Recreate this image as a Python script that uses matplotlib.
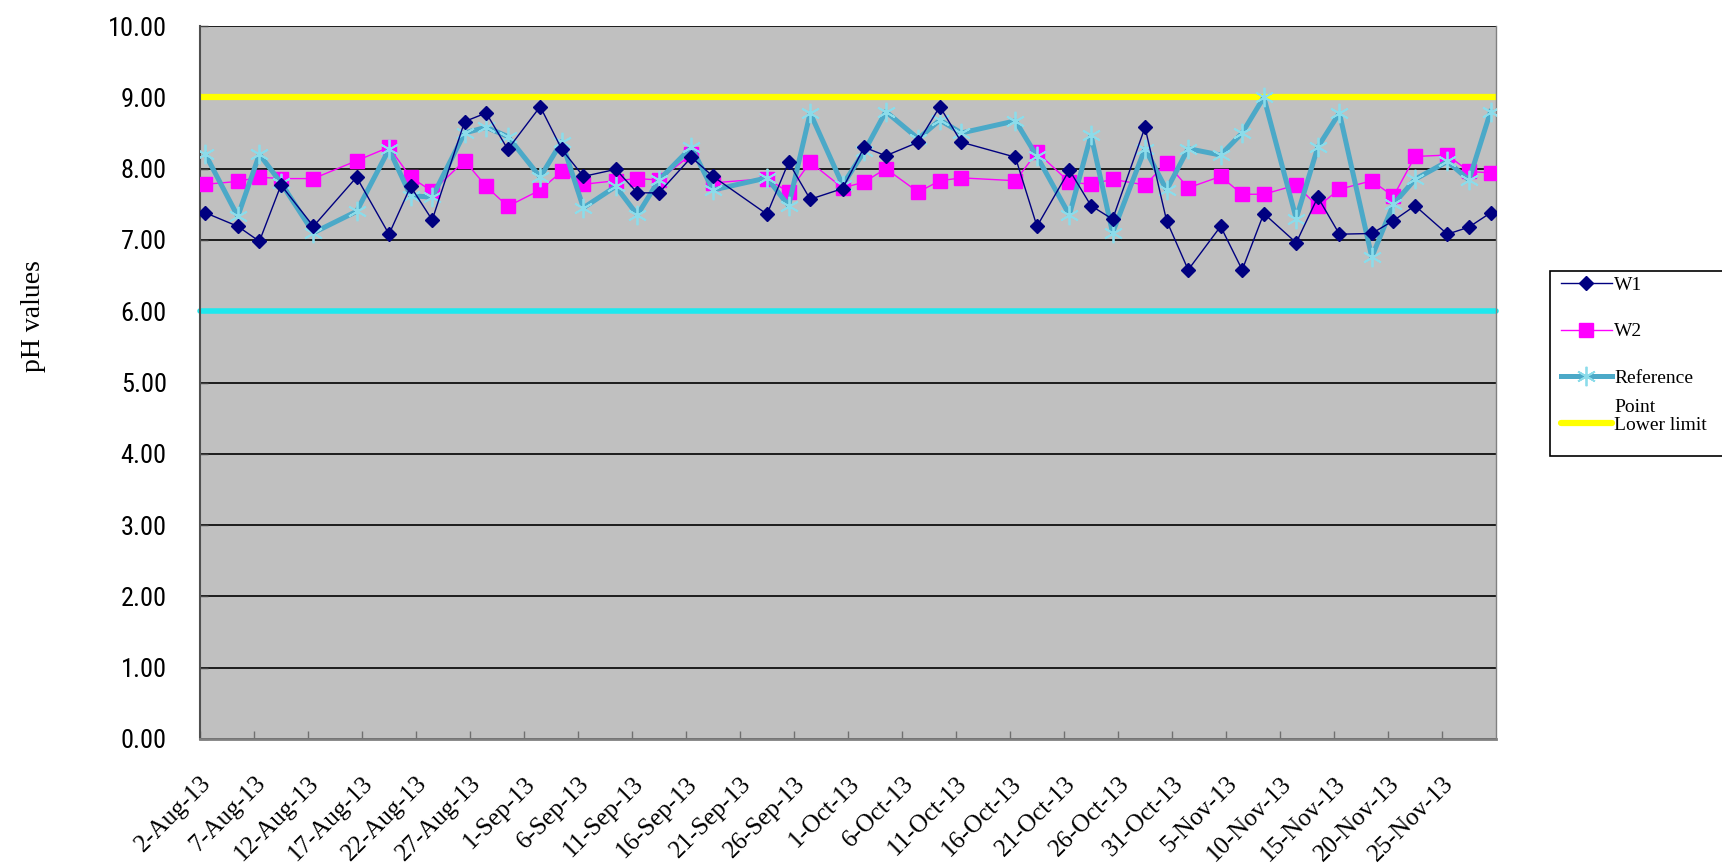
import matplotlib
matplotlib.use("Agg")
import matplotlib.pyplot as plt
import matplotlib.patches as mpatches
import matplotlib.transforms as mtransforms
import pandas as pd

# sampling dates (Mon / Wed / Fri)
dates = [
    "2013-08-02", "2013-08-05", "2013-08-07", "2013-08-09", "2013-08-12",
    "2013-08-16", "2013-08-19", "2013-08-21", "2013-08-23", "2013-08-26",
    "2013-08-28", "2013-08-30", "2013-09-02", "2013-09-04", "2013-09-06",
    "2013-09-09", "2013-09-11", "2013-09-13", "2013-09-16", "2013-09-18",
    "2013-09-23", "2013-09-25", "2013-09-27", "2013-09-30", "2013-10-02",
    "2013-10-04", "2013-10-07", "2013-10-09", "2013-10-11", "2013-10-16",
    "2013-10-18", "2013-10-21", "2013-10-23", "2013-10-25", "2013-10-28",
    "2013-10-30", "2013-11-01", "2013-11-04", "2013-11-06", "2013-11-08",
    "2013-11-11", "2013-11-13", "2013-11-15", "2013-11-18", "2013-11-20",
    "2013-11-22", "2013-11-25", "2013-11-27", "2013-11-29",
]

w1 = [7.38, 7.19, 6.98, 7.77, 7.19, 7.88, 7.08, 7.75, 7.28, 8.66,
      8.78, 8.27, 8.87, 8.27, 7.89, 7.99, 7.66, 7.66, 8.16, 7.89,
      7.36, 8.09, 7.57, 7.72, 8.30, 8.18, 8.37, 8.87, 8.37, 8.16,
      7.19, 7.98, 7.48, 7.29, 8.58, 7.27, 6.58, 7.19, 6.58, 7.37,
      6.96, 7.60, 7.08, 7.09, 7.27, 7.48, 7.08, 7.18, 7.38]

w2 = [7.78, 7.82, 7.88, 7.86, 7.86, 8.11, 8.30, 7.88, 7.68, 8.11,
      7.75, 7.47, 7.70, 7.96, 7.78, 7.83, 7.86, 7.84, 8.20, 7.80,
      7.86, 7.67, 8.09, 7.73, 7.81, 8.00, 7.67, 7.83, 7.87, 7.83,
      8.23, 7.81, 7.78, 7.85, 7.77, 8.08, 7.73, 7.89, 7.64, 7.64,
      7.77, 7.47, 7.71, 7.83, 7.61, 8.17, 8.19, 7.96, 7.94]

reference = [8.20, 7.33, 8.20, 7.80, 7.10, 7.40, 8.27, 7.62, 7.60, 8.50,
             8.58, 8.45, 7.88, 8.38, 7.45, 7.75, 7.35, 7.84, 8.30, 7.70,
             7.87, 7.48, 8.78, 7.77, 8.24, 8.80, 8.42, 8.68, 8.50, 8.67,
             8.17, 7.35, 8.47, 7.10, 8.28, 7.70, 8.28, 8.19, 8.50, 9.00,
             7.30, 8.30, 8.78, 6.76, 7.50, 7.85, 8.10, 7.84, 8.80]

upper_limit = 9.0
lower_limit = 6.0

x_start = "2013-08-02"
x_end = "2013-11-30"
tick_dates = pd.date_range("2013-08-02", "2013-11-25", freq="5D")
tick_labels = [f"{d.day}-{d.strftime('%b-%y')}" for d in tick_dates]
y_ticks = list(range(0, 11))

SERIF = ["Liberation Serif", "DejaVu Serif"]
NARROW = ["Liberation Sans Narrow", "DejaVu Sans Condensed", "Roboto Condensed",
          "DejaVu Sans"]

# points sit in the middle of their day, like Excel's date axis
x = pd.to_datetime(dates) + pd.Timedelta(hours=12)
x0, x1 = pd.Timestamp(x_start), pd.Timestamp(x_end)

W, H = 1722, 864
fig = plt.figure(figsize=(W / 100, H / 100), dpi=100)
ax = fig.add_axes([200 / W, 1 - 739 / H, 1296 / W, 713 / H])
ax.set_facecolor("#c0c0c0")

# limit lines
l_up, = ax.plot([x0, x1], [upper_limit, upper_limit], color="#ffff00",
                lw=4.5, solid_capstyle="round", zorder=2)
ax.plot([x0, x1], [lower_limit, lower_limit], color="#1ee8ee", lw=4,
        solid_capstyle="round", clip_on=False, zorder=2)

l_w1, = ax.plot(x, w1, color="#000080", lw=1, marker="D", ms=7,
                markerfacecolor="#000080", markeredgecolor="#000080", zorder=4)
l_w2, = ax.plot(x, w2, color="#ff00ff", lw=1, marker="s", ms=10,
                markerfacecolor="#ff00ff", markeredgecolor="#ff00ff", zorder=3)
l_ref, = ax.plot(x, reference, color="#4ba9c8", lw=3.6, marker=(6, 2, 0),
                 ms=14, markeredgecolor="#8cdcea", markeredgewidth=1.3,
                 solid_joinstyle="round", zorder=3.5)

ax.set_xlim(x0, x1)
ax.set_ylim(0, 10)
ax.set_yticks(y_ticks)
ax.set_yticklabels([f"{v:.2f}" for v in y_ticks], family=NARROW, fontsize=19,
                   fontstretch="condensed")
ax.yaxis.grid(True, color="black", lw=1.2)
ax.set_axisbelow(True)

ax.set_xticks(tick_dates)
ax.set_xticklabels(tick_labels, rotation=45, ha="right", va="top",
                   rotation_mode="anchor", family=SERIF, fontsize=18)
shift = mtransforms.ScaledTranslation(10 / 100, 0, fig.dpi_scale_trans)
for lab in ax.get_xticklabels():
    lab.set_transform(lab.get_transform() + shift)

ax.tick_params(axis="x", direction="in", length=6, width=1, color="#707070",
               pad=24)
ax.tick_params(axis="y", direction="in", length=6, width=1, color="#404040",
               pad=24)

ax.spines["top"].set_visible(False)
ax.spines["right"].set_color("#808080")
ax.spines["right"].set_linewidth(1)
ax.spines["left"].set_color("#505050")
ax.spines["left"].set_linewidth(1.5)
ax.spines["bottom"].set_color("#808080")
ax.spines["bottom"].set_linewidth(2)

fig.text(33 / W, 1 - 316 / H, "pH values", rotation=90, ha="center",
         va="center", family=SERIF, fontsize=20)

# legend box (runs off the right edge, as in the original)
box = mpatches.Rectangle((1550 / W, 1 - 456 / H), 200 / W, 185 / H,
                         transform=fig.transFigure, facecolor="white",
                         edgecolor="black", lw=1.2, zorder=4)
fig.add_artist(box)

leg = fig.legend([l_w1, l_w2, l_ref, l_up],
                 ["W1", "W2", "Reference", "Lower limit"],
                 loc="upper left", bbox_to_anchor=(1561 / W, 1 - 276 / H),
                 frameon=False, prop={"family": SERIF, "size": 14},
                 handlelength=2.6, labelspacing=1.5, borderpad=0,
                 handletextpad=0.15, borderaxespad=0)
leg.set_zorder(6)
fig.text(1614 / W, 1 - 407 / H, "Point", ha="left", va="center",
         family=SERIF, fontsize=14, zorder=10)

fig.savefig("out.png", dpi=100)
